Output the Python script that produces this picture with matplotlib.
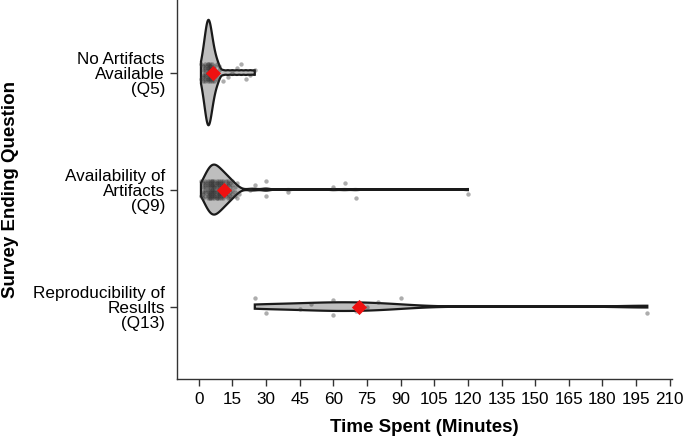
import numpy as np
import matplotlib
matplotlib.use("Agg")
import matplotlib.pyplot as plt

plt.rcParams['font.family'] = ['Liberation Sans', 'DejaVu Sans']

categories = ["No Artifacts\nAvailable\n(Q5)",
              "Availability of\nArtifacts\n(Q9)",
              "Reproducibility of\nResults\n(Q13)"]

# minutes spent (value, how many respondents)
q5_values = [1, 2, 3, 4, 5, 6, 7, 8, 9, 11, 13, 15, 17, 19, 21, 23, 25]
q5_counts = [2, 5, 9, 13, 12, 8, 5, 3, 2, 1, 1, 1, 1, 1, 1, 1, 1]

q9_values = [1, 2, 3, 4, 5, 6, 7, 8, 9, 10, 11, 12, 13, 14, 15, 16, 17, 18,
             23, 25, 30, 40, 60, 65, 70, 120]
q9_counts = [2, 5, 7, 9, 11, 12, 12, 11, 10, 9, 8, 7, 6, 5, 4, 3, 2, 1,
             1, 1, 2, 1, 1, 1, 1, 1]

q13_values = [25, 30, 45, 50, 60, 70, 75, 80, 90, 200]
q13_counts = [1, 1, 1, 1, 2, 1, 1, 1, 1, 1]

x_ticks = list(range(0, 211, 15))

series = [np.repeat(q5_values, q5_counts).astype(float),
          np.repeat(q9_values, q9_counts).astype(float),
          np.repeat(q13_values, q13_counts).astype(float)]


def bw_nrd0(x):
    sd = np.std(x, ddof=1)
    q75, q25 = np.percentile(x, [75, 25])
    lo = min(sd, (q75 - q25) / 1.34)
    if lo <= 0:
        lo = sd
    return 0.9 * lo * len(x) ** (-0.2)


def kde(x, grid):
    h = bw_nrd0(x)
    z = (grid[:, None] - x[None, :]) / h
    return np.exp(-0.5 * z ** 2).sum(axis=1) / (len(x) * h * np.sqrt(2 * np.pi))


fig = plt.figure(figsize=(6.85, 4.44), dpi=100)
ax = fig.add_axes([0.259, 0.146, 0.722, 0.854])

grids, dens = [], []
for d in series:
    g = np.linspace(d.min(), d.max(), 512)
    grids.append(g)
    dens.append(kde(d, g))
dmax = max(dd.max() for dd in dens)

for i, (d, g, dd) in enumerate(zip(series, grids, dens)):
    w = dd / dmax * 0.45
    xs = np.concatenate([g, g[::-1]])
    ys = np.concatenate([i - w, (i + w)[::-1]])
    ax.fill(xs, ys, facecolor="#bebebe", edgecolor="#1a1a1a", linewidth=1.6, zorder=2)
    n = len(d)
    jit = np.array([((k * 7) % 9 - 4) / 4.0 * 0.075 for k in range(n)])
    ax.scatter(d, i + jit, s=10, color="#333333", alpha=0.4, linewidths=0, zorder=3)
    ax.scatter([d.mean()], [i], marker="D", s=60, color="#ee1111", zorder=4, linewidths=0)

ax.set_xlim(-9.5, 211)
ax.set_ylim(2.62, -0.62)
ax.set_xticks(x_ticks)
ax.set_xticklabels([str(t) for t in x_ticks], fontsize=12.3)
ax.set_yticks(range(len(categories)))
ax.set_yticklabels(categories, fontsize=12.3, ha="right", linespacing=1.0)
ax.spines['top'].set_visible(False)
ax.spines['right'].set_visible(False)
for s in ['left', 'bottom']:
    ax.spines[s].set_color('#333333')
    ax.spines[s].set_linewidth(1.0)
ax.tick_params(axis='both', colors='#333333', length=5, width=1.0, labelcolor='black', pad=4)
ax.set_xlabel("Time Spent (Minutes)", fontsize=13.5, fontweight='bold', labelpad=9)
ax.set_ylabel("Survey Ending Question", fontsize=13.5, fontweight='bold', labelpad=10)

fig.savefig("out.png", dpi=100)
